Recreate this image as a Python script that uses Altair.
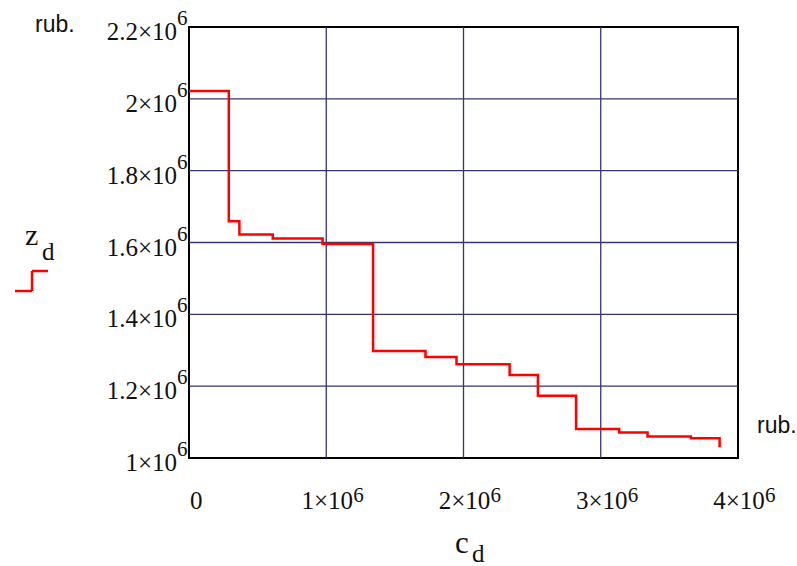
import altair as alt
import pandas as pd

# Step data (C_d in rub., Z_d in rub.)
cd_vals = [0, 0.29e6, 0.367e6, 0.61e6, 0.973e6, 1.341e6, 1.723e6, 1.949e6,
           2.336e6, 2.542e6, 2.82e6, 3.134e6, 3.341e6, 3.657e6, 3.866e6]
zd_vals = [2.022e6, 1.659e6, 1.622e6, 1.611e6, 1.596e6, 1.298e6, 1.281e6, 1.261e6,
           1.231e6, 1.173e6, 1.081e6, 1.071e6, 1.060e6, 1.055e6, 1.030e6]

x_ticks = [0, 1e6, 2e6, 3e6, 4e6]
x_tick_text = ["0", "1×10", "2×10", "3×10", "4×10"]
x_tick_sup = ["", "6", "6", "6", "6"]
y_ticks = [1.0e6, 1.2e6, 1.4e6, 1.6e6, 1.8e6, 2.0e6, 2.2e6]
y_tick_text = ["1×10", "1.2×10", "1.4×10", "1.6×10", "1.8×10", "2×10", "2.2×10"]
y_tick_sup = ["6", "6", "6", "6", "6", "6", "6"]
x_grid = [1e6, 2e6, 3e6]
y_grid = [1.2e6, 1.4e6, 1.6e6, 1.8e6, 2.0e6]

line_df = pd.DataFrame({"cd": cd_vals, "zd": zd_vals})
xt_df = pd.DataFrame({"v": x_ticks, "t": x_tick_text, "s": x_tick_sup})
yt_df = pd.DataFrame({"v": y_ticks, "t": y_tick_text, "s": y_tick_sup})
xg_df = pd.DataFrame({"v": x_grid})
yg_df = pd.DataFrame({"v": y_grid})
one = pd.DataFrame({"a": [0]})

W, H = 549, 431
SERIF = "Liberation Serif"
GRID = "#34346e"

xs = alt.Scale(domain=[0, 4e6], nice=False, zero=False)
ys = alt.Scale(domain=[1e6, 2.2e6], nice=False, zero=False)

xgrid = alt.Chart(xg_df).mark_rule(color=GRID, strokeWidth=1.3).encode(
    x=alt.X("v:Q", scale=xs, axis=None))
ygrid = alt.Chart(yg_df).mark_rule(color=GRID, strokeWidth=1.3).encode(
    y=alt.Y("v:Q", scale=ys, axis=None))

line = alt.Chart(line_df).mark_line(
    interpolate="step-after", color="#ff0000", strokeWidth=2.5
).encode(
    x=alt.X("cd:Q", scale=xs, axis=None),
    y=alt.Y("zd:Q", scale=ys, axis=None),
)

# y tick labels
ylab = alt.Chart(yt_df).mark_text(
    font=SERIF, fontSize=25, align="right", baseline="alphabetic",
    dx=-12, dy=13, color="#111"
).encode(x=alt.value(0), y=alt.Y("v:Q", scale=ys, axis=None), text="t:N")
ysup = alt.Chart(yt_df).mark_text(
    font=SERIF, fontSize=21, align="left", baseline="alphabetic",
    dx=-12, dy=-2, color="#111"
).encode(x=alt.value(0), y=alt.Y("v:Q", scale=ys, axis=None), text="s:N")

# x tick labels
xlab = alt.Chart(xt_df).transform_filter("datum.v > 0").mark_text(
    font=SERIF, fontSize=25, align="center", baseline="alphabetic",
    dx=1, color="#111"
).encode(x=alt.X("v:Q", scale=xs, axis=None), y=alt.value(482), text="t:N")
xsup = alt.Chart(xt_df).transform_filter("datum.v > 0").mark_text(
    font=SERIF, fontSize=21, align="left", baseline="alphabetic",
    dx=27, color="#111"
).encode(x=alt.X("v:Q", scale=xs, axis=None), y=alt.value(475), text="s:N")
xzero = alt.Chart(xt_df).transform_filter("datum.v == 0").mark_text(
    font=SERIF, fontSize=25, align="left", baseline="alphabetic",
    dx=1, color="#111"
).encode(x=alt.X("v:Q", scale=xs, axis=None), y=alt.value(482), text="t:N")

def txt(s, x, y, size, font=SERIF, align="left"):
    return alt.Chart(one).mark_text(
        font=font, fontSize=size, align=align, baseline="alphabetic", color="#111"
    ).encode(x=alt.value(x), y=alt.value(y), text=alt.value(s))

annotations = [
    txt("rub.", -154, 5, 23, font="Liberation Sans"),
    txt("rub.", 568, 406, 23, font="Liberation Sans"),
    txt("z", -164, 218, 30),
    txt("d", -147, 233, 25),
    txt("c", 266, 526, 31),
    txt("d", 283, 535, 25),
]

def seg(x1, x2, y1, y2):
    enc = dict(x=alt.value(x1), y=alt.value(y1))
    if x2 is not None:
        enc["x2"] = alt.value(x2)
    if y2 is not None:
        enc["y2"] = alt.value(y2)
    return alt.Chart(one).mark_rule(color="#ff0000", strokeWidth=2.5).encode(**enc)

legend = [
    seg(-174, -157, 264, None),
    seg(-157, None, 244, 264),
    seg(-157, -141, 244, None),
]

chart = alt.layer(
    xgrid, ygrid, line, ylab, ysup, xlab, xsup, xzero, *annotations, *legend
).properties(
    width=W, height=H,
    autosize=alt.AutoSizeParams(type="none"),
    padding={"left": 189, "top": 27, "right": 59, "bottom": 108},
    background="white",
).configure_view(
    stroke="black", strokeWidth=2
)

chart.save("out.html", embed_options={"renderer": "svg", "actions": False})
